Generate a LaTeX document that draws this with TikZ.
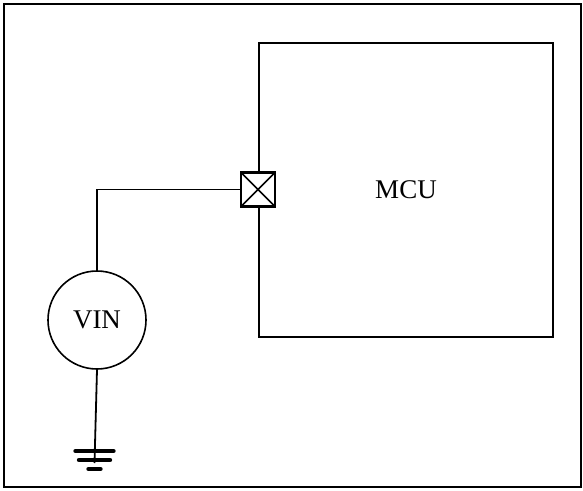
\documentclass[tikz,border=0pt]{standalone}
\usepackage{fontspec}
\setmainfont{Liberation Serif}
\begin{document}
\begin{tikzpicture}[
  x=1pt, y=-1pt,
  every node/.style={font=\fontsize{27}{32}\selectfont, line width=2pt, inner sep=0pt},
  block/.style={draw, rectangle, minimum width=294pt, minimum height=294pt},
  source/.style={draw, circle, minimum size=98pt, line width=1.6pt},
  pinbox/.style={draw, rectangle, minimum size=34pt, line width=2.6pt, fill=white,
    path picture={\draw[line width=1.6pt] (path picture bounding box.north west) -- (path picture bounding box.south east)
      (path picture bounding box.south west) -- (path picture bounding box.north east);}},
  wire/.style={line width=1.8pt},
  gndbar/.style={line width=4.4pt, line cap=round}
]

\useasboundingbox (0,0) rectangle (583,490);
\draw[line width=2.2pt] (4,4) rectangle (581,487);

\node[block] (mcu) at (406,189.5) {MCU};
\node[pinbox] (pin) at (mcu.west) {};
\node[source] (vin) at (97,320) {VIN};
\coordinate (gnd) at (94.5,451);

\draw[wire] (pin.west) -| (vin.north);
\draw[wire] (vin.south) -- ([yshift=-12pt]gnd);
\foreach \dy/\half in {0/19, 9/15.5, 18/6}
  \draw[gndbar] ([xshift=-\half pt, yshift=-\dy pt]gnd) -- ([xshift=\half pt, yshift=-\dy pt]gnd);
\end{tikzpicture}
\end{document}
